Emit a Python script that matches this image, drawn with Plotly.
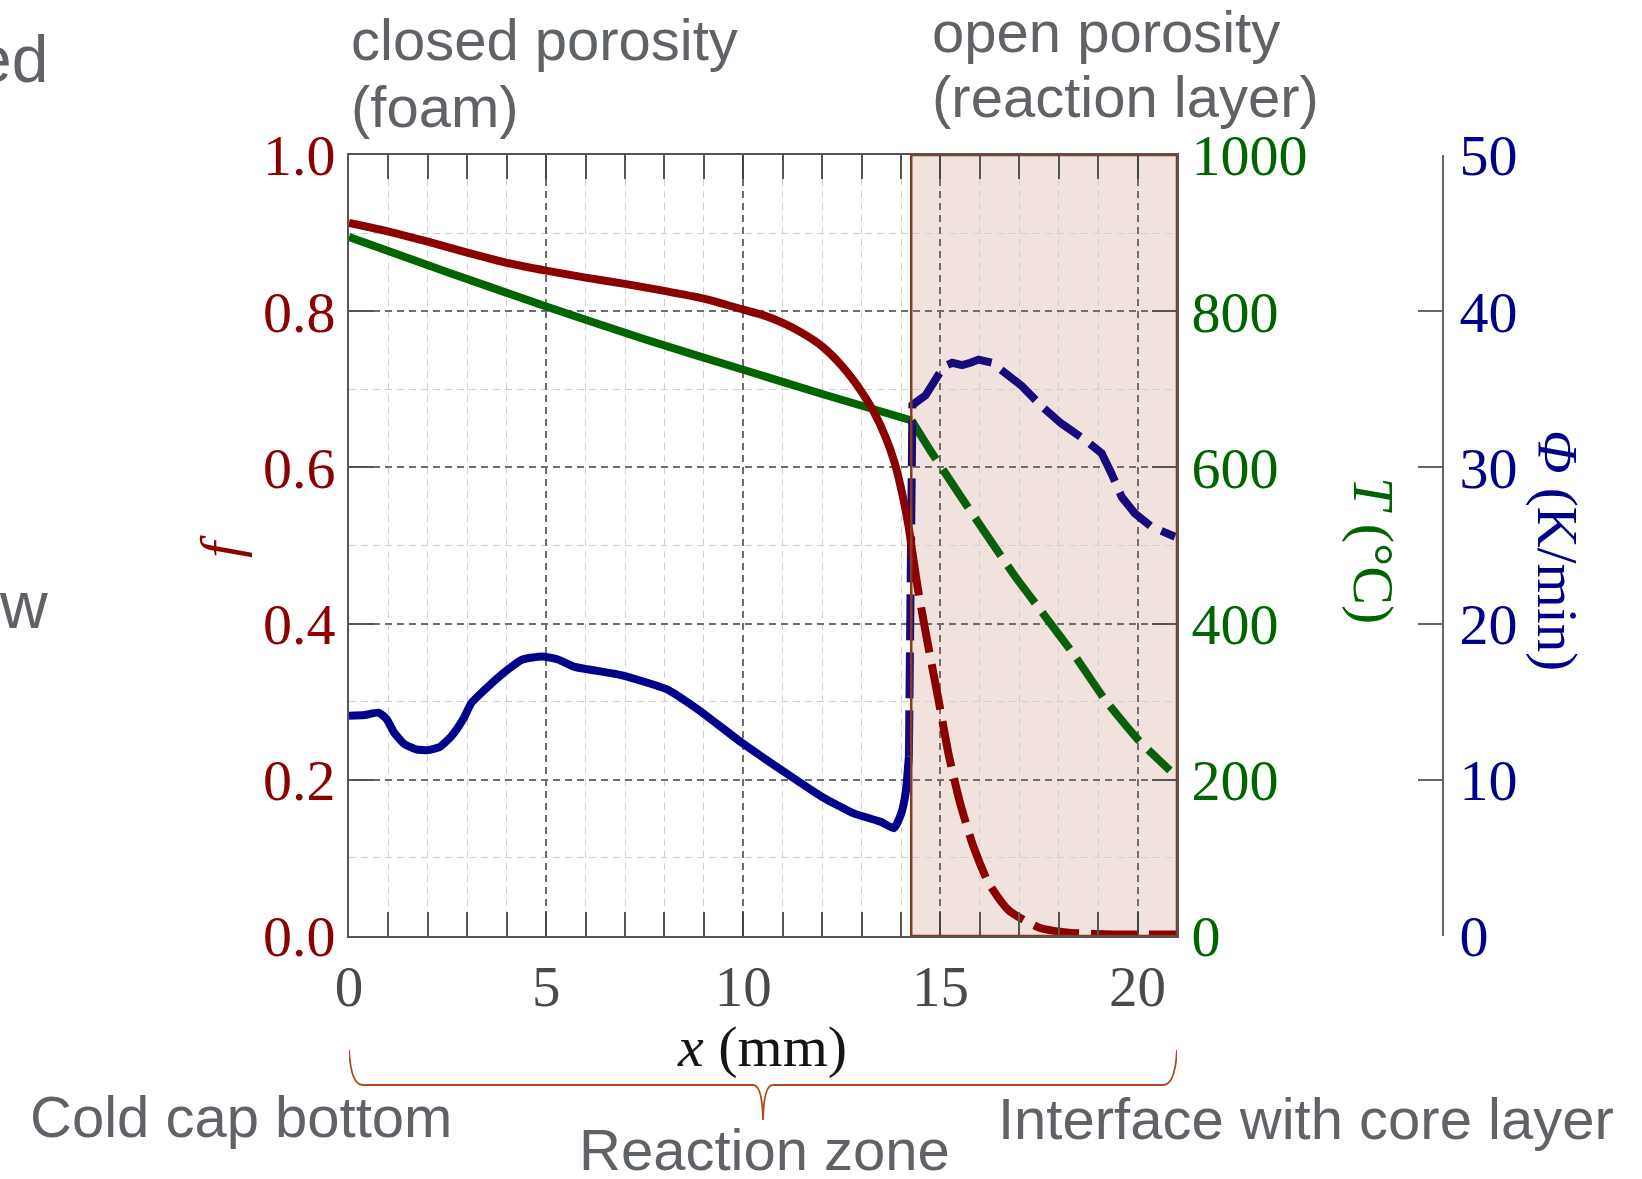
import plotly.graph_objects as go

# ---------------- data ----------------
x_f_solid = [0, 1, 2, 3, 4, 5, 6, 7, 8, 9, 10, 10.5, 11, 11.5, 12, 12.5, 13, 13.3, 13.6, 13.85,
             14.05, 14.2, 14.28]
f_solid = [0.913, 0.902, 0.889, 0.875, 0.862, 0.852, 0.843, 0.835, 0.826, 0.816, 0.802, 0.795,
           0.785, 0.772, 0.755, 0.730, 0.697, 0.672, 0.640, 0.604, 0.562, 0.522, 0.494]
x_f_dash = [14.28, 14.45, 14.71, 14.96, 15.21, 15.5, 15.84, 16.22, 16.73, 17.49, 18.33, 19.43, 21.0]
f_dash = [0.494, 0.438, 0.366, 0.300, 0.232, 0.170, 0.114, 0.068, 0.033, 0.011, 0.004, 0.002, 0.002]

x_T_solid = [0, 2.5, 5, 7.5, 10, 12, 14.27]
T_solid = [895, 850, 806, 764, 725, 694, 660]
x_T_dash = [14.27, 14.79, 15.46, 16.14, 16.9, 17.66, 18.42, 19.18, 20.02, 20.82]
T_dash = [660, 618, 567, 516, 460, 409, 358, 302, 251, 212]

x_phi_solid = [0, 0.4, 0.75, 0.95, 1.15, 1.4, 1.7, 2.0, 2.3, 2.6, 2.9, 3.1, 3.5, 4.0, 4.4, 4.9,
               5.3, 5.7, 6.9, 8.05, 8.85, 10.0, 11.1, 12.0, 12.8, 13.5, 13.82, 14.0, 14.12, 14.2]
phi_solid = [14.1, 14.15, 14.3, 13.9, 13.0, 12.3, 11.95, 11.9, 12.1, 12.8, 13.9, 14.9, 15.9, 17.0,
             17.7, 17.9, 17.7, 17.25, 16.7, 15.8, 14.5, 12.3, 10.4, 8.9, 7.85, 7.3, 6.9, 7.8, 9.2, 11.5]
x_phi_dash = [14.2, 14.24, 14.27, 14.29, 14.45, 14.62, 14.87, 15.08, 15.3, 15.55, 15.76, 15.97,
              16.31, 16.65, 17.07, 17.57, 18.07, 18.67, 19.09, 19.34, 19.6, 19.93, 20.35, 20.95]
phi_dash = [11.5, 20, 30, 34.0, 34.3, 34.6, 35.6, 36.45, 36.7, 36.55, 36.7, 36.9, 36.7, 36.0,
            35.2, 33.9, 32.8, 31.75, 30.9, 29.6, 28.1, 27.06, 26.2, 25.56]

x_ticks = [0, 5, 10, 15, 20]
f_ticks = [0.0, 0.2, 0.4, 0.6, 0.8, 1.0]
T_ticks = [0, 200, 400, 600, 800, 1000]
phi_ticks = [0, 10, 20, 30, 40, 50]

open_zone = [14.26, 21.0]   # x-range of the open porosity (reaction layer) region
x_range = [0, 21]

# ---------------- styling ----------------
RED = "#8B0000"
GREEN = "#006400"
GREEN_D = "#0B5E0B"
BLUE = "#00008B"
BLUE_D = "#170B7C"
GRAY_TXT = "#5f6368"
SIENNA = "#B04A1E"
SERIF = "Liberation Serif"
SANS = "Liberation Sans"
LW = 8
DASH = "46px,12px"

W, H = 1642, 1179
ML, MR, MT, MB = 349, 199, 155, 243
PW = W - ML - MR
PH = H - MT - MB
PLOT_RIGHT = 1177


def px(xp):
    return (xp - ML) / PW


def py(yp):
    return (H - MB - yp) / PH


fig = go.Figure()

# empty trace to anchor the main subplot
fig.add_trace(go.Scatter(x=[], y=[], xaxis="x", yaxis="y", showlegend=False))

fig.add_trace(go.Scatter(x=x_T_solid, y=T_solid, yaxis="y2", mode="lines",
                         line=dict(color=GREEN, width=LW, shape="spline", smoothing=0.4)))
fig.add_trace(go.Scatter(x=x_T_dash, y=T_dash, yaxis="y2", mode="lines",
                         line=dict(color=GREEN_D, width=LW, dash=DASH, shape="spline", smoothing=0.4)))

fig.add_trace(go.Scatter(x=x_phi_solid, y=phi_solid, yaxis="y3", mode="lines",
                         line=dict(color=BLUE, width=LW, shape="spline", smoothing=0.5)))
fig.add_trace(go.Scatter(x=x_phi_dash, y=phi_dash, yaxis="y3", mode="lines",
                         line=dict(color=BLUE_D, width=LW, dash=DASH)))

fig.add_trace(go.Scatter(x=x_f_solid, y=f_solid, yaxis="y4", mode="lines",
                         line=dict(color=RED, width=LW, shape="spline", smoothing=0.6)))
fig.add_trace(go.Scatter(x=x_f_dash, y=f_dash, yaxis="y4", mode="lines",
                         line=dict(color=RED, width=LW, dash=DASH, shape="spline", smoothing=0.6)))

dom_end = (PLOT_RIGHT - ML) / PW

fig.update_layout(
    width=W, height=H,
    margin=dict(l=ML, r=MR, t=MT, b=MB, pad=0),
    paper_bgcolor="white", plot_bgcolor="white",
    showlegend=False,
    xaxis=dict(
        domain=[0, dom_end], range=x_range, tickvals=x_ticks,
        ticks="inside", ticklen=24, tickwidth=2, tickcolor="#444",
        showline=True, linecolor="#555", linewidth=2, mirror="allticks",
        showgrid=True, gridcolor="#6e6e6e", gridwidth=1.5, griddash="7px,5px",
        zeroline=False,
        minor=dict(dtick=1, ticks="inside", ticklen=12, tickwidth=1.5, tickcolor="#555",
                   showgrid=True, gridcolor="#cfcfcf", gridwidth=1.3, griddash="7px,5px"),
        tickfont=dict(family=SERIF, size=57, color="#4a4a4a"),
        ticklabelstandoff=0,
    ),
    yaxis=dict(
        range=[0, 1], tickvals=f_ticks, tickformat=".1f",
        ticks="inside", ticklen=25, tickwidth=2, tickcolor="#555",
        showline=True, linecolor="#555", linewidth=2,
        showgrid=True, gridcolor="#6e6e6e", gridwidth=1.5, griddash="7px,5px",
        zeroline=False,
        minor=dict(dtick=0.1, ticks="", showgrid=True, gridcolor="#cfcfcf",
                   gridwidth=1.3, griddash="7px,5px"),
        tickfont=dict(family=SERIF, size=58, color=RED),
        ticklabelstandoff=0,
    ),
    yaxis2=dict(
        overlaying="y", side="right", anchor="x", range=[0, 1000], tickvals=T_ticks,
        ticks="inside", ticklen=25, tickwidth=2, tickcolor="#555",
        showline=True, linecolor="#555", linewidth=2, showgrid=False, zeroline=False,
        tickfont=dict(family=SERIF, size=58, color=GREEN),
        ticklabelstandoff=1,
    ),
    yaxis3=dict(
        overlaying="y", side="right", anchor="free", position=1.0, range=[0, 50],
        tickvals=phi_ticks,
        ticks="inside", ticklen=24, tickwidth=2, tickcolor="#666",
        showline=True, linecolor="#666", linewidth=2, showgrid=False, zeroline=False,
        tickfont=dict(family=SERIF, size=58, color=BLUE),
        ticklabelstandoff=4,
    ),
    yaxis4=dict(overlaying="y", range=[0, 1], visible=False),
)

# shaded open-porosity region
fig.add_shape(type="rect", xref="x", yref="y", x0=open_zone[0], x1=open_zone[1], y0=0, y1=1,
              fillcolor="#F2E2DE", line=dict(width=0), layer="below")
fig.add_shape(type="rect", xref="x", yref="y", x0=open_zone[0], x1=open_zone[1], y0=0, y1=1,
              fillcolor="rgba(0,0,0,0)", line=dict(color="#8B3A1E", width=2.5), layer="above")

# curly brace under the x axis (reaction zone)
yt, yh, yc = py(1050), py(1085), py(1120)
mid = (x_range[0] + x_range[1]) / 2
brace = (f"M {x_range[0]},{yt} Q {x_range[0] + 0.05},{yh} {x_range[0] + 0.35},{yh} "
         f"L {mid - 0.25},{yh} Q {mid - 0.02},{yh} {mid},{yc} "
         f"Q {mid + 0.02},{yh} {mid + 0.25},{yh} "
         f"L {x_range[1] - 0.35},{yh} Q {x_range[1] - 0.05},{yh} {x_range[1]},{yt}")
fig.add_shape(type="path", xref="x", yref="paper", path=brace,
              line=dict(color=SIENNA, width=1.8), layer="above")

ann = []


def text(t, xp, yp, size=58, color=GRAY_TXT, family=SANS, xanchor="left", yanchor="middle", angle=0):
    ann.append(dict(text=t, x=px(xp), y=py(yp), xref="paper", yref="paper", showarrow=False,
                    xanchor=xanchor, yanchor=yanchor, textangle=angle,
                    font=dict(family=family, size=size, color=color)))


# slide labels (baseline - 0.35 em = middle)
text("closed porosity", 349, 61 - 21)
text("(foam)", 349, 128 - 21)
text("open porosity", 930, 52 - 21)
text("(reaction layer)", 930, 118 - 21)
text("Cold cap bottom", 28, 1137 - 21)
text("Reaction zone", 577, 1171 - 22)
text("Interface with core layer", 996, 1139 - 21)
text("ed", 50, 82 - 23, size=66, xanchor="right")
text("w", 50, 628 - 23, size=66, xanchor="right")

# axis titles
text("<i>x</i> (mm)", 762, 1046, size=58, color="#151515", family=SERIF, xanchor="center")
text("<i>f</i>", 220, 547, size=58, color=RED, family=SERIF, xanchor="center", angle=-90)
text("<i>T</i> (°C)", 1374, 550, size=58, color=GREEN, family=SERIF, xanchor="center", angle=90)
text("<i>Φ</i> (K/min)", 1557, 550, size=57, color=BLUE, family=SERIF, xanchor="center", angle=90)

# arrows
ann.append(dict(text="", x=-0.08, y=-0.004, xref="x", yref="y", showarrow=True,
                ax=-98, ay=131, arrowhead=2, arrowsize=1.3, arrowwidth=2, arrowcolor=SIENNA,
                standoff=0))
ann.append(dict(text="", x=21.05, y=-0.004, xref="x", yref="y", showarrow=True,
                ax=124, ay=134, arrowhead=2, arrowsize=1.3, arrowwidth=2, arrowcolor=SIENNA,
                standoff=0))

fig.update_layout(annotations=ann)
fig.write_html("out.html")
